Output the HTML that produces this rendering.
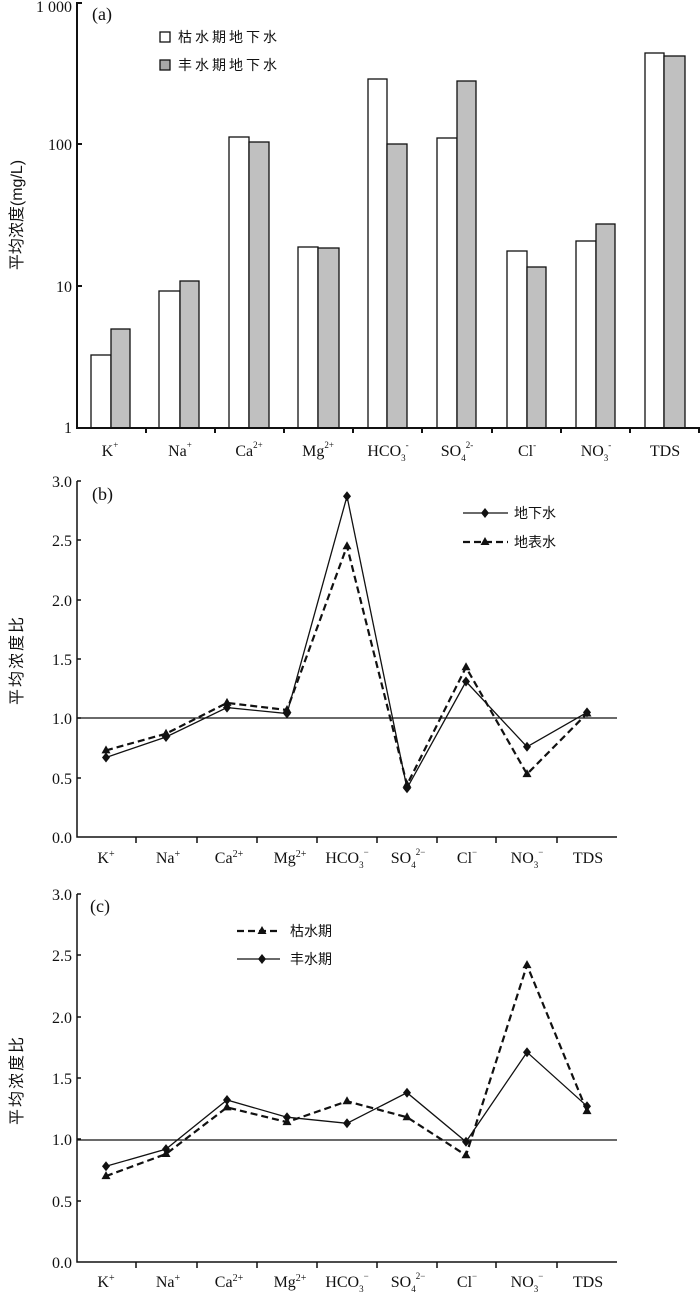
<!DOCTYPE html>
<html><head><meta charset="utf-8"><style>
html,body{margin:0;padding:0;background:#fff;}
svg{display:block;}
text{font-family:"Liberation Serif","Noto Serif CJK SC",serif;fill:#111;}
.cj{font-family:"Liberation Sans","Noto Sans CJK SC",sans-serif;}
</style></head><body>
<svg width="700" height="1295" viewBox="0 0 700 1295" xmlns="http://www.w3.org/2000/svg">
<!-- Panel a -->
<g stroke="#111" stroke-width="1.3">
<rect x="91" y="355" width="20" height="73" fill="#fff"/><rect x="111" y="329" width="19" height="99" fill="#c0c0c0"/>
<rect x="159" y="291" width="21" height="137" fill="#fff"/><rect x="180" y="281" width="19" height="147" fill="#c0c0c0"/>
<rect x="229" y="137" width="20" height="291" fill="#fff"/><rect x="249" y="142" width="20" height="286" fill="#c0c0c0"/>
<rect x="298" y="247" width="20" height="181" fill="#fff"/><rect x="318" y="248" width="21" height="180" fill="#c0c0c0"/>
<rect x="368" y="79" width="19" height="349" fill="#fff"/><rect x="387" y="144" width="20" height="284" fill="#c0c0c0"/>
<rect x="437" y="138" width="20" height="290" fill="#fff"/><rect x="457" y="81" width="19" height="347" fill="#c0c0c0"/>
<rect x="507" y="251" width="20" height="177" fill="#fff"/><rect x="527" y="267" width="19" height="161" fill="#c0c0c0"/>
<rect x="576" y="241" width="20" height="187" fill="#fff"/><rect x="596" y="224" width="19" height="204" fill="#c0c0c0"/>
<rect x="645" y="53" width="19" height="375" fill="#fff"/><rect x="664" y="56" width="21" height="372" fill="#c0c0c0"/>
<rect x="160" y="32" width="10" height="10" fill="#fff"/><rect x="160" y="60" width="10" height="10" fill="#a8a8a8"/>
</g>
<g stroke="#111" stroke-width="2" fill="none">
<path d="M77,2 V428 H700"/>
<path d="M77,3 H82 M77,144 H82 M77,286 H82"/>
<path d="M146,428 v5 M215,428 v5 M284,428 v5 M353,428 v5 M422,428 v5 M492,428 v5 M561,428 v5 M630,428 v5 M699,428 v5"/>
</g>
<g font-size="16" text-anchor="end">
<text x="72" y="12">1 000</text><text x="72" y="150">100</text><text x="72" y="292">10</text><text x="72" y="433">1</text>
</g>
<text x="92" y="20" font-size="18">(a)</text>
<text class="cj" x="178" y="42" font-size="14" letter-spacing="3">枯水期地下水</text>
<text class="cj" x="178" y="70" font-size="14" letter-spacing="3">丰水期地下水</text>
<text class="cj" transform="translate(22,215) rotate(-90)" font-size="16" text-anchor="middle" fill="#444">平均浓度(mg/L)</text>
<g font-size="16" text-anchor="middle">
<text x="110" y="456">K<tspan font-size="9" dy="-8">+</tspan></text>
<text x="180" y="456">Na<tspan font-size="9" dy="-8">+</tspan></text>
<text x="249" y="456">Ca<tspan font-size="9" dy="-8">2+</tspan></text>
<text x="318" y="456">Mg<tspan font-size="9" dy="-8">2+</tspan></text>
<text x="388" y="456">HCO<tspan font-size="9" dy="5">3</tspan><tspan font-size="9" dy="-13">-</tspan></text>
<text x="457" y="456">SO<tspan font-size="9" dy="5">4</tspan><tspan font-size="9" dy="-13">2-</tspan></text>
<text x="527" y="456">Cl<tspan font-size="9" dy="-8">-</tspan></text>
<text x="596" y="456">NO<tspan font-size="9" dy="5">3</tspan><tspan font-size="9" dy="-13">-</tspan></text>
<text x="665" y="456">TDS</text>
</g>

<!-- Panel b: y0=837, unit 118.7 -->
<g stroke="#111" stroke-width="1.5" fill="none">
<path d="M77,481 V837 H617"/>
<path d="M77,481 h4 M77,540 h4 M77,600 h4 M77,659 h4 M77,718 h4 M77,778 h4"/>
<path d="M136,837 v6 M197,837 v6 M257,837 v6 M317,837 v6 M377,837 v6 M437,837 v6 M496,837 v6 M557,837 v6"/>
<path d="M77,718 H617" stroke-width="1.2"/>
<polyline points="106,757.5 166,737 227,707.6 287,713.5 347,496.3 407,788.3 466,681.5 527,746.8 587,712.4" stroke-width="1.3"/>
<polyline points="106,750.4 166,733.7 227,702.9 287,710 347,546.2 407,784.8 466,667.3 527,774.1 587,713.5" stroke-width="2.2" stroke-dasharray="7,4"/>
<path d="M463,513 H508" stroke-width="1.3"/>
<path d="M463,542 H508" stroke-width="2.2" stroke-dasharray="7,4"/>
</g>
<g fill="#111">
<path id="d" d="M0,-5 L4,0 L0,5 L-4,0Z" transform="translate(106,757.5)"/>
<path d="M0,-5 L4,0 L0,5 L-4,0Z" transform="translate(166,737)"/>
<path d="M0,-5 L4,0 L0,5 L-4,0Z" transform="translate(227,707.6)"/>
<path d="M0,-5 L4,0 L0,5 L-4,0Z" transform="translate(287,713.5)"/>
<path d="M0,-5 L4,0 L0,5 L-4,0Z" transform="translate(347,496.3)"/>
<path d="M0,-5 L4,0 L0,5 L-4,0Z" transform="translate(407,788.3)"/>
<path d="M0,-5 L4,0 L0,5 L-4,0Z" transform="translate(466,681.5)"/>
<path d="M0,-5 L4,0 L0,5 L-4,0Z" transform="translate(527,746.8)"/>
<path d="M0,-5 L4,0 L0,5 L-4,0Z" transform="translate(587,712.4)"/>
<path d="M0,-5 L4,0 L0,5 L-4,0Z" transform="translate(485,513)"/>
<path d="M0,-5 L4.5,3 L-4.5,3Z" transform="translate(106,750.4)"/>
<path d="M0,-5 L4.5,3 L-4.5,3Z" transform="translate(166,733.7)"/>
<path d="M0,-5 L4.5,3 L-4.5,3Z" transform="translate(227,702.9)"/>
<path d="M0,-5 L4.5,3 L-4.5,3Z" transform="translate(287,710)"/>
<path d="M0,-5 L4.5,3 L-4.5,3Z" transform="translate(347,546.2)"/>
<path d="M0,-5 L4.5,3 L-4.5,3Z" transform="translate(407,784.8)"/>
<path d="M0,-5 L4.5,3 L-4.5,3Z" transform="translate(466,667.3)"/>
<path d="M0,-5 L4.5,3 L-4.5,3Z" transform="translate(527,774.1)"/>
<path d="M0,-5 L4.5,3 L-4.5,3Z" transform="translate(587,713.5)"/>
<path d="M0,-5 L4.5,3 L-4.5,3Z" transform="translate(485,542)"/>
</g>
<g font-size="16" text-anchor="end">
<text x="72" y="487">3.0</text><text x="72" y="546">2.5</text><text x="72" y="606">2.0</text><text x="72" y="665">1.5</text><text x="72" y="724">1.0</text><text x="72" y="784">0.5</text><text x="72" y="843">0.0</text>
</g>
<text x="92" y="500" font-size="18">(b)</text>
<text class="cj" x="514" y="518" font-size="14">地下水</text>
<text class="cj" x="514" y="547" font-size="14">地表水</text>
<text class="cj" transform="translate(22,660) rotate(-90)" font-size="16" text-anchor="middle" fill="#444" letter-spacing="2">平均浓度比</text>
<g font-size="16" text-anchor="middle">
<text x="106" y="863">K<tspan font-size="10" dy="-6">+</tspan></text>
<text x="168" y="863">Na<tspan font-size="10" dy="-6">+</tspan></text>
<text x="229" y="863">Ca<tspan font-size="10" dy="-6">2+</tspan></text>
<text x="290" y="863">Mg<tspan font-size="10" dy="-6">2+</tspan></text>
<text x="347" y="863">HCO<tspan font-size="9" dy="5">3</tspan><tspan font-size="9" dy="-13">−</tspan></text>
<text x="408" y="863">SO<tspan font-size="9" dy="5">4</tspan><tspan font-size="9" dy="-13">2−</tspan></text>
<text x="467" y="863">Cl<tspan font-size="9" dy="-8">−</tspan></text>
<text x="527" y="863">NO<tspan font-size="9" dy="5">3</tspan><tspan font-size="9" dy="-13">−</tspan></text>
<text x="588" y="863">TDS</text>
</g>

<!-- Panel c: y0=1262, unit 122.7 -->
<g stroke="#111" stroke-width="1.5" fill="none">
<path d="M77,894 V1262 H617"/>
<path d="M77,894 h4 M77,955 h4 M77,1017 h4 M77,1078 h4 M77,1139 h4 M77,1201 h4"/>
<path d="M136,1262 v6 M197,1262 v6 M257,1262 v6 M317,1262 v6 M377,1262 v6 M437,1262 v6 M496,1262 v6 M557,1262 v6"/>
<path d="M77,1140 H617" stroke-width="1.2"/>
<polyline points="106,1166.3 166,1149.1 227,1100 287,1117.2 347,1123.3 407,1092.7 466,1141.8 527,1052.2 587,1106.2" stroke-width="1.3"/>
<polyline points="106,1176.1 166,1154 227,1107.4 287,1122.1 347,1101.3 407,1117.2 466,1155.3 527,965.1 587,1111.1" stroke-width="2.2" stroke-dasharray="7,4"/>
<path d="M237,931 H280" stroke-width="2.2" stroke-dasharray="7,4"/>
<path d="M237,959 H280" stroke-width="1.3"/>
</g>
<g fill="#111">
<path d="M0,-5 L4,0 L0,5 L-4,0Z" transform="translate(106,1166.3)"/>
<path d="M0,-5 L4,0 L0,5 L-4,0Z" transform="translate(166,1149.1)"/>
<path d="M0,-5 L4,0 L0,5 L-4,0Z" transform="translate(227,1100)"/>
<path d="M0,-5 L4,0 L0,5 L-4,0Z" transform="translate(287,1117.2)"/>
<path d="M0,-5 L4,0 L0,5 L-4,0Z" transform="translate(347,1123.3)"/>
<path d="M0,-5 L4,0 L0,5 L-4,0Z" transform="translate(407,1092.7)"/>
<path d="M0,-5 L4,0 L0,5 L-4,0Z" transform="translate(466,1141.8)"/>
<path d="M0,-5 L4,0 L0,5 L-4,0Z" transform="translate(527,1052.2)"/>
<path d="M0,-5 L4,0 L0,5 L-4,0Z" transform="translate(587,1106.2)"/>
<path d="M0,-5 L4,0 L0,5 L-4,0Z" transform="translate(262,959)"/>
<path d="M0,-5 L4.5,3 L-4.5,3Z" transform="translate(106,1176.1)"/>
<path d="M0,-5 L4.5,3 L-4.5,3Z" transform="translate(166,1154)"/>
<path d="M0,-5 L4.5,3 L-4.5,3Z" transform="translate(227,1107.4)"/>
<path d="M0,-5 L4.5,3 L-4.5,3Z" transform="translate(287,1122.1)"/>
<path d="M0,-5 L4.5,3 L-4.5,3Z" transform="translate(347,1101.3)"/>
<path d="M0,-5 L4.5,3 L-4.5,3Z" transform="translate(407,1117.2)"/>
<path d="M0,-5 L4.5,3 L-4.5,3Z" transform="translate(466,1155.3)"/>
<path d="M0,-5 L4.5,3 L-4.5,3Z" transform="translate(527,965.1)"/>
<path d="M0,-5 L4.5,3 L-4.5,3Z" transform="translate(587,1111.1)"/>
<path d="M0,-5 L4.5,3 L-4.5,3Z" transform="translate(262,931)"/>
</g>
<g font-size="16" text-anchor="end">
<text x="72" y="900">3.0</text><text x="72" y="961">2.5</text><text x="72" y="1023">2.0</text><text x="72" y="1084">1.5</text><text x="72" y="1145">1.0</text><text x="72" y="1207">0.5</text><text x="72" y="1268">0.0</text>
</g>
<text x="90" y="912" font-size="18">(c)</text>
<text class="cj" x="290" y="936" font-size="14">枯水期</text>
<text class="cj" x="290" y="964" font-size="14">丰水期</text>
<text class="cj" transform="translate(22,1080) rotate(-90)" font-size="16" text-anchor="middle" fill="#444" letter-spacing="2">平均浓度比</text>
<g font-size="16" text-anchor="middle">
<text x="106" y="1287">K<tspan font-size="10" dy="-6">+</tspan></text>
<text x="168" y="1287">Na<tspan font-size="10" dy="-6">+</tspan></text>
<text x="229" y="1287">Ca<tspan font-size="10" dy="-6">2+</tspan></text>
<text x="290" y="1287">Mg<tspan font-size="10" dy="-6">2+</tspan></text>
<text x="347" y="1287">HCO<tspan font-size="9" dy="5">3</tspan><tspan font-size="9" dy="-13">−</tspan></text>
<text x="408" y="1287">SO<tspan font-size="9" dy="5">4</tspan><tspan font-size="9" dy="-13">2−</tspan></text>
<text x="467" y="1287">Cl<tspan font-size="9" dy="-8">−</tspan></text>
<text x="527" y="1287">NO<tspan font-size="9" dy="5">3</tspan><tspan font-size="9" dy="-13">−</tspan></text>
<text x="588" y="1287">TDS</text>
</g>
</svg>
</body></html>
